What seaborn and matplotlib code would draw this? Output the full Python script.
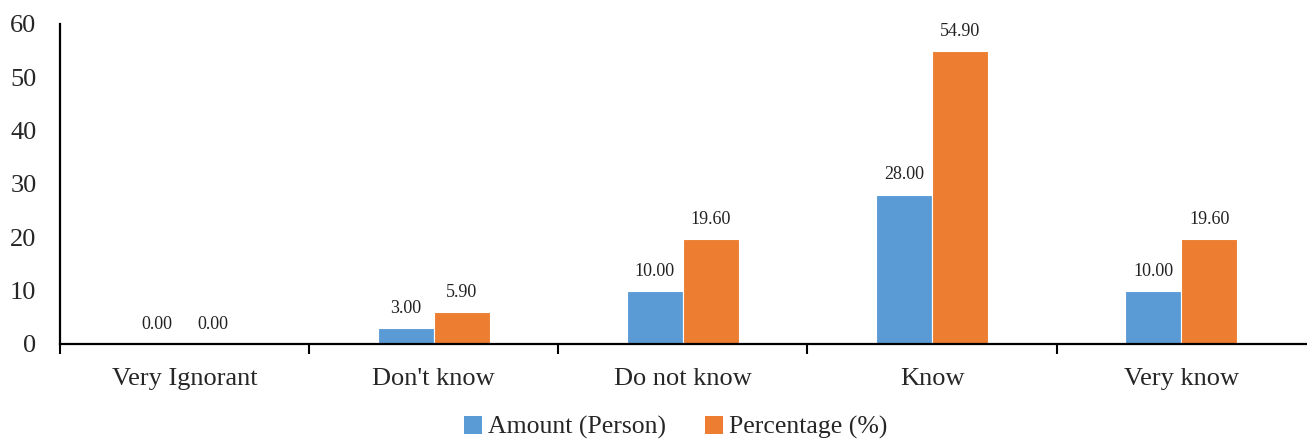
import matplotlib
matplotlib.use("Agg")
import matplotlib.pyplot as plt
import seaborn as sns
import pandas as pd
from matplotlib.patches import Patch

categories = ["Very Ignorant", "Don't know", "Do not know", "Know", "Very know"]
amount = [0.00, 3.00, 10.00, 28.00, 10.00]
percentage = [0.00, 5.90, 19.60, 54.90, 19.60]
series = ["Amount (Person)", "Percentage (%)"]
colors = ["#5B9BD5", "#ED7D31"]
yticks = [0, 10, 20, 30, 40, 50, 60]

df = pd.DataFrame({
    "category": categories * 2,
    "value": amount + percentage,
    "series": [series[0]] * len(categories) + [series[1]] * len(categories),
})

sns.set_style("white")
plt.rcParams["font.family"] = ["Liberation Serif", "DejaVu Serif"]

fig = plt.figure(figsize=(13.07, 4.41), dpi=100)
ax = fig.add_axes([0.046, 0.22, 0.953, 0.726])

sns.barplot(data=df, x="category", y="value", hue="series", order=categories,
            hue_order=series, palette=colors, width=0.45, edgecolor="white",
            linewidth=0.8, saturation=1, ax=ax, legend=False)

for cont in ax.containers:
    labels = [f"{v:.2f}" for v in cont.datavalues]
    ax.bar_label(cont, labels=labels, padding=8, fontsize=13, color="#222222")

ax.set_ylim(0, 60)
ax.set_xlim(-0.5, len(categories) - 0.5)
ax.set_yticks(yticks)
ax.set_yticklabels([str(t) for t in yticks], fontsize=19)
ax.set_xlabel("")
ax.set_ylabel("")
ax.tick_params(axis="x", which="major", length=0, labelsize=19, pad=17)
ax.set_xticks([i - 0.5 for i in range(len(categories))], minor=True)
ax.tick_params(axis="x", which="minor", bottom=True, length=7, width=1.5,
               color="black", direction="out")
ax.tick_params(axis="y", length=0, pad=17)

for s in ["top", "right"]:
    ax.spines[s].set_visible(False)
for s in ["left", "bottom"]:
    ax.spines[s].set_color("black")
    ax.spines[s].set_linewidth(1.6)

handles = [Patch(facecolor=c, edgecolor="none") for c in colors]
fig.legend(handles, series, loc="lower center", bbox_to_anchor=(0.517, -0.048), ncol=2,
           frameon=False, fontsize=18.5, handlelength=0.7, handleheight=0.7,
           handletextpad=0.25, columnspacing=1.5)

fig.savefig("out.png", dpi=100)
